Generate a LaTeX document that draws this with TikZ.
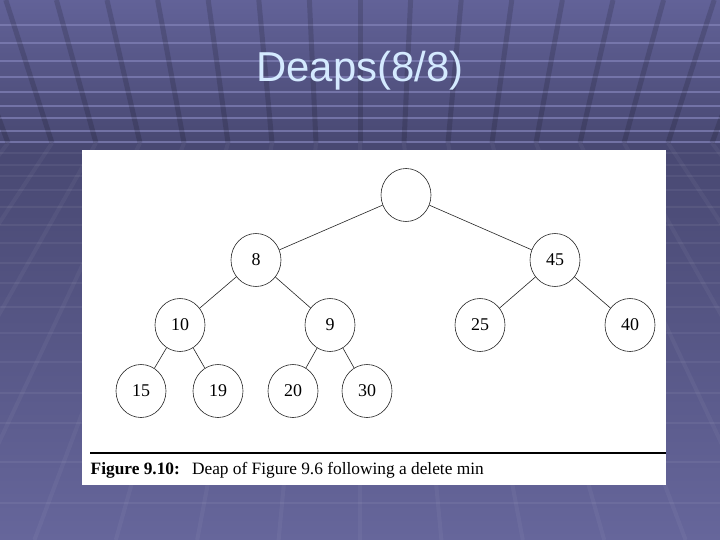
\documentclass[tikz,border=0pt]{standalone}
\usepackage{fontspec}
\setmainfont{Liberation Serif}
\newfontfamily\titlefont{Liberation Sans}
\usetikzlibrary{shapes.geometric}
\definecolor{bgtop}{RGB}{98,98,152}
\definecolor{bgmid}{RGB}{72,72,114}
\definecolor{bgbot}{RGB}{102,102,155}
\definecolor{hlcol}{RGB}{128,128,182}
\definecolor{titlecol}{RGB}{212,234,255}
\begin{document}
\begin{tikzpicture}[x=1bp,y=-1bp,
  heapnode/.style={ellipse, draw=black!85, line width=0.6bp, minimum width=50bp, minimum height=53bp, inner sep=0pt, font=\fontsize{18}{18}\selectfont},
  edge/.style={draw=black!85, line width=0.6bp},
  tophl/.style={draw=hlcol, line width=2.2bp, opacity=0.75},
  lowhl/.style={draw=white, line width=2bp, opacity=0.06},
  sep/.style={draw=black, line width=5bp, opacity=0.14},
  lowsep/.style={draw=white, line width=4bp, opacity=0.045}]
\useasboundingbox (0,0) rectangle (720,540);
% background
\shade[top color=bgtop, bottom color=bgmid] (0,0) rectangle (720,145);
\shade[top color=bgmid, bottom color=bgbot] (0,145) rectangle (720,540);
\foreach \yy in {25,43,61,77,92,106,118,131,142}
  \draw[tophl] (0,\yy) -- (720,\yy);
\foreach \yy in {153,165,176,190,207,225,243,263,283,307,333,362,393,423,462,503}
  \draw[lowhl] (0,\yy) -- (720,\yy);
\foreach \k in {-9,...,9}{
  \draw[sep] ({360+44*\k*1.15},0) -- ({360+44*\k},143);
  \draw[lowsep] ({360+44*\k},143) -- ({360+44*\k*1.85},540);
}
% title
\node[anchor=base, inner sep=0pt, font=\titlefont\fontsize{42}{42}\selectfont, text=titlecol] (title) at (360,82) {Deaps(8/8)};
% figure panel
\fill[white] (82,150) rectangle (666,485);
\node[heapnode] (r) at (406,195) {};
\node[heapnode] (n8) at (256,260) {8};
\node[heapnode] (n45) at (555,260) {45};
\node[heapnode] (n10) at (180,325) {10};
\node[heapnode] (n9) at (330,325) {9};
\node[heapnode] (n25) at (480,325) {25};
\node[heapnode] (n40) at (630,325) {40};
\node[heapnode] (n15) at (141,391) {15};
\node[heapnode] (n19) at (218,391) {19};
\node[heapnode] (n20) at (293,391) {20};
\node[heapnode] (n30) at (367,391) {30};
\draw[edge] (r) -- (n8);
\draw[edge] (r) -- (n45);
\draw[edge] (n8) -- (n10);
\draw[edge] (n8) -- (n9);
\draw[edge] (n45) -- (n25);
\draw[edge] (n45) -- (n40);
\draw[edge] (n10) -- (n15);
\draw[edge] (n10) -- (n19);
\draw[edge] (n9) -- (n20);
\draw[edge] (n9) -- (n30);
\coordinate (rl) at (90,453);
\coordinate (rr) at (666,453);
\draw[line width=1.5bp] (rl) -- (rr);
\node[anchor=base west, inner sep=0pt, font=\fontsize{17.4}{17.4}\selectfont] (cap) at (90.5,474) {\textbf{Figure 9.10:}\hspace{0.7em}Deap of Figure 9.6 following a delete min};
\end{tikzpicture}
\end{document}
